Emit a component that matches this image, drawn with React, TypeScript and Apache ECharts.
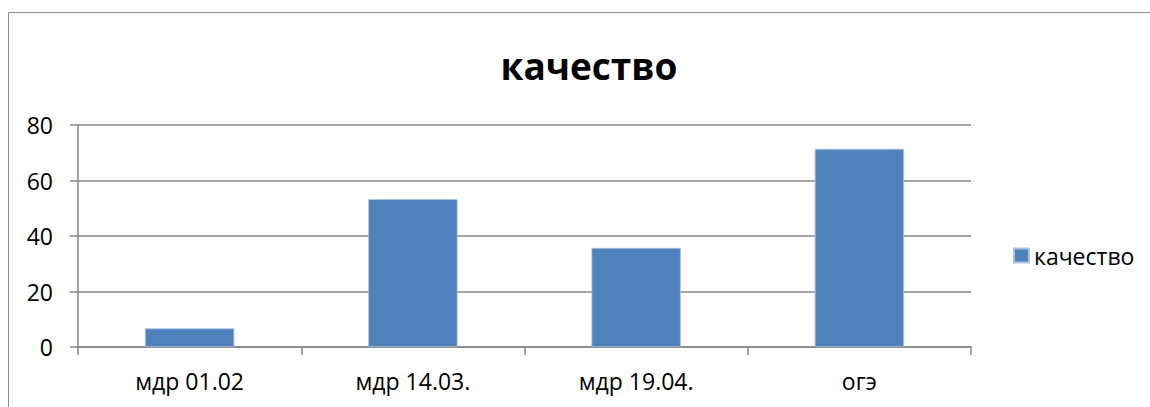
import React, { useEffect, useRef } from "react";
import * as echarts from "echarts";

const categories = ["мдр 01.02", "мдр 14.03.", "мдр 19.04.", "огэ"];
const seriesName = "качество";
const values = [6.7, 53.3, 35.7, 71.4];
const yTicks = { min: 0, max: 80, interval: 20 };

export default function App() {
  const ref = useRef<HTMLDivElement>(null);
  useEffect(() => {
    document.body.style.margin = "0";
    const chart = echarts.init(ref.current!, null, { renderer: "svg" });
    const font = "Open Sans";
    chart.setOption({
      animation: false,
      backgroundColor: "#ffffff",
      textStyle: { fontFamily: font },
      graphic: [
        {
          type: "rect",
          shape: { x: 8.5, y: 12.5, width: 1300, height: 600 },
          style: { fill: "none", stroke: "#8c8c8c", lineWidth: 1 },
          silent: true,
        },
      ],
      title: {
        text: seriesName,
        left: 584,
        top: 42,
        textAlign: "center",
        textStyle: { fontFamily: font, fontSize: 37, fontWeight: "bold", color: "#000" },
      },
      legend: {
        data: [seriesName],
        left: 1008,
        top: 239,
        icon: "rect",
        itemWidth: 15,
        itemHeight: 14,
        itemGap: 6,
        textStyle: { fontFamily: font, fontSize: 23, color: "#000" },
      },
      grid: { left: 78, right: 179, top: 125, bottom: 60, containLabel: false },
      xAxis: {
        type: "category",
        data: categories,
        axisLine: { show: true, lineStyle: { color: "#868686", width: 1.5 } },
        axisTick: { show: true, length: 8, lineStyle: { color: "#868686", width: 1.5 } },
        axisLabel: { margin: 22, fontFamily: font, fontSize: 23, color: "#000" },
        splitLine: { show: false },
      },
      yAxis: {
        type: "value",
        min: yTicks.min,
        max: yTicks.max,
        interval: yTicks.interval,
        axisLine: { show: true, lineStyle: { color: "#868686", width: 1.5 } },
        axisTick: { show: true, length: 8, lineStyle: { color: "#868686", width: 1.5 } },
        axisLabel: { margin: 25, fontFamily: font, fontSize: 23, color: "#000" },
        splitLine: { show: true, lineStyle: { color: "#868686", width: 1.5 } },
      },
      series: [
        {
          name: seriesName,
          type: "bar",
          data: values,
          barWidth: "40%",
          itemStyle: { color: "#4f81bd", borderColor: "#a9c1e0", borderWidth: 0.8 },
        },
      ],
    });
    return () => chart.dispose();
  }, []);
  return (
    <div
      ref={ref}
      style={{ position: "absolute", left: 0, top: 0, width: 1150, height: 407 }}
    />
  );
}
